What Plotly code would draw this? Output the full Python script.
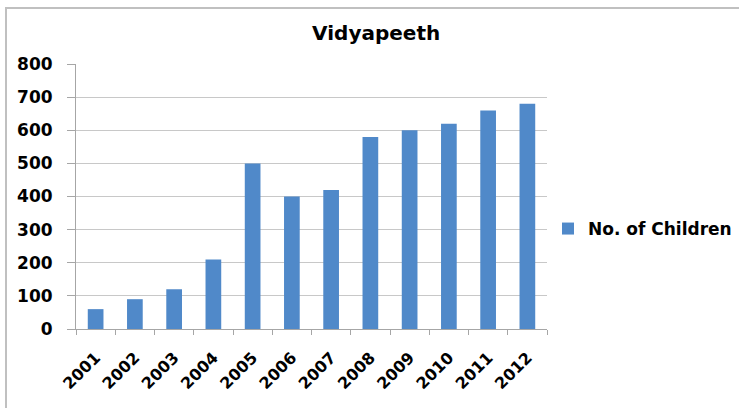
import plotly.graph_objects as go

years = ["2001", "2002", "2003", "2004", "2005", "2006",
         "2007", "2008", "2009", "2010", "2011", "2012"]
children = [60, 90, 120, 210, 500, 400, 420, 580, 600, 620, 660, 680]
y_ticks = [0, 100, 200, 300, 400, 500, 600, 700, 800]

FONT = "DejaVu Sans"
BAR_COLOR = "#5089C9"
GRID = "#C8C8C8"
AXIS = "#A6A6A6"

W, H = 739, 408
L, R, T, B = 76, 192, 64, 79
pw, ph = W - L - R, H - T - B


def px_x(v):
    return (v - L) / pw


def px_y(v):
    return (H - B - v) / ph


fig = go.Figure(
    go.Bar(
        x=years,
        y=children,
        name="No. of Children",
        marker=dict(color=BAR_COLOR, line=dict(width=0)),
        showlegend=True,
    )
)

# outer chart border (runs off the right and bottom edges)
fig.add_shape(
    type="rect", xref="paper", yref="paper",
    x0=px_x(6), x1=px_x(745), y0=px_y(8), y1=px_y(415),
    line=dict(color="#C0C0C0", width=2), fillcolor="rgba(0,0,0,0)",
    layer="below",
)

fig.update_layout(
    width=W, height=H,
    margin=dict(l=L, r=R, t=T, b=B, autoexpand=False),
    paper_bgcolor="white",
    plot_bgcolor="white",
    bargap=0.6,
    title=dict(
        text="<b>Vidyapeeth</b>",
        x=0.509, xanchor="center", xref="container",
        y=1 - 33 / H, yanchor="middle", yref="container",
        font=dict(family=FONT, size=20, color="black"),
    ),
    legend=dict(
        x=px_x(548), y=px_y(229), xanchor="left", yanchor="middle",
        font=dict(family=FONT, size=17, color="black", weight="bold"),
        bgcolor="rgba(0,0,0,0)",
    ),
    font=dict(family=FONT, color="black"),
)

fig.update_xaxes(
    type="category",
    tickangle=-45,
    tickson="boundaries",
    ticks="outside", ticklen=5, tickcolor=AXIS,
    showline=True, linecolor=AXIS, linewidth=1,
    showgrid=False,
    ticklabelstandoff=12,
    tickfont=dict(family=FONT, size=16, color="black", weight="bold"),
)

fig.update_yaxes(
    range=[0, 800],
    tickvals=y_ticks,
    ticktext=[str(v) for v in y_ticks],
    ticks="outside", ticklen=8, tickcolor=AXIS,
    showline=True, linecolor=AXIS, linewidth=1,
    showgrid=True, gridcolor=GRID, gridwidth=1,
    zeroline=False,
    ticklabelstandoff=11,
    tickfont=dict(family=FONT, size=17, color="black", weight="bold"),
)

fig.write_html("out.html")
